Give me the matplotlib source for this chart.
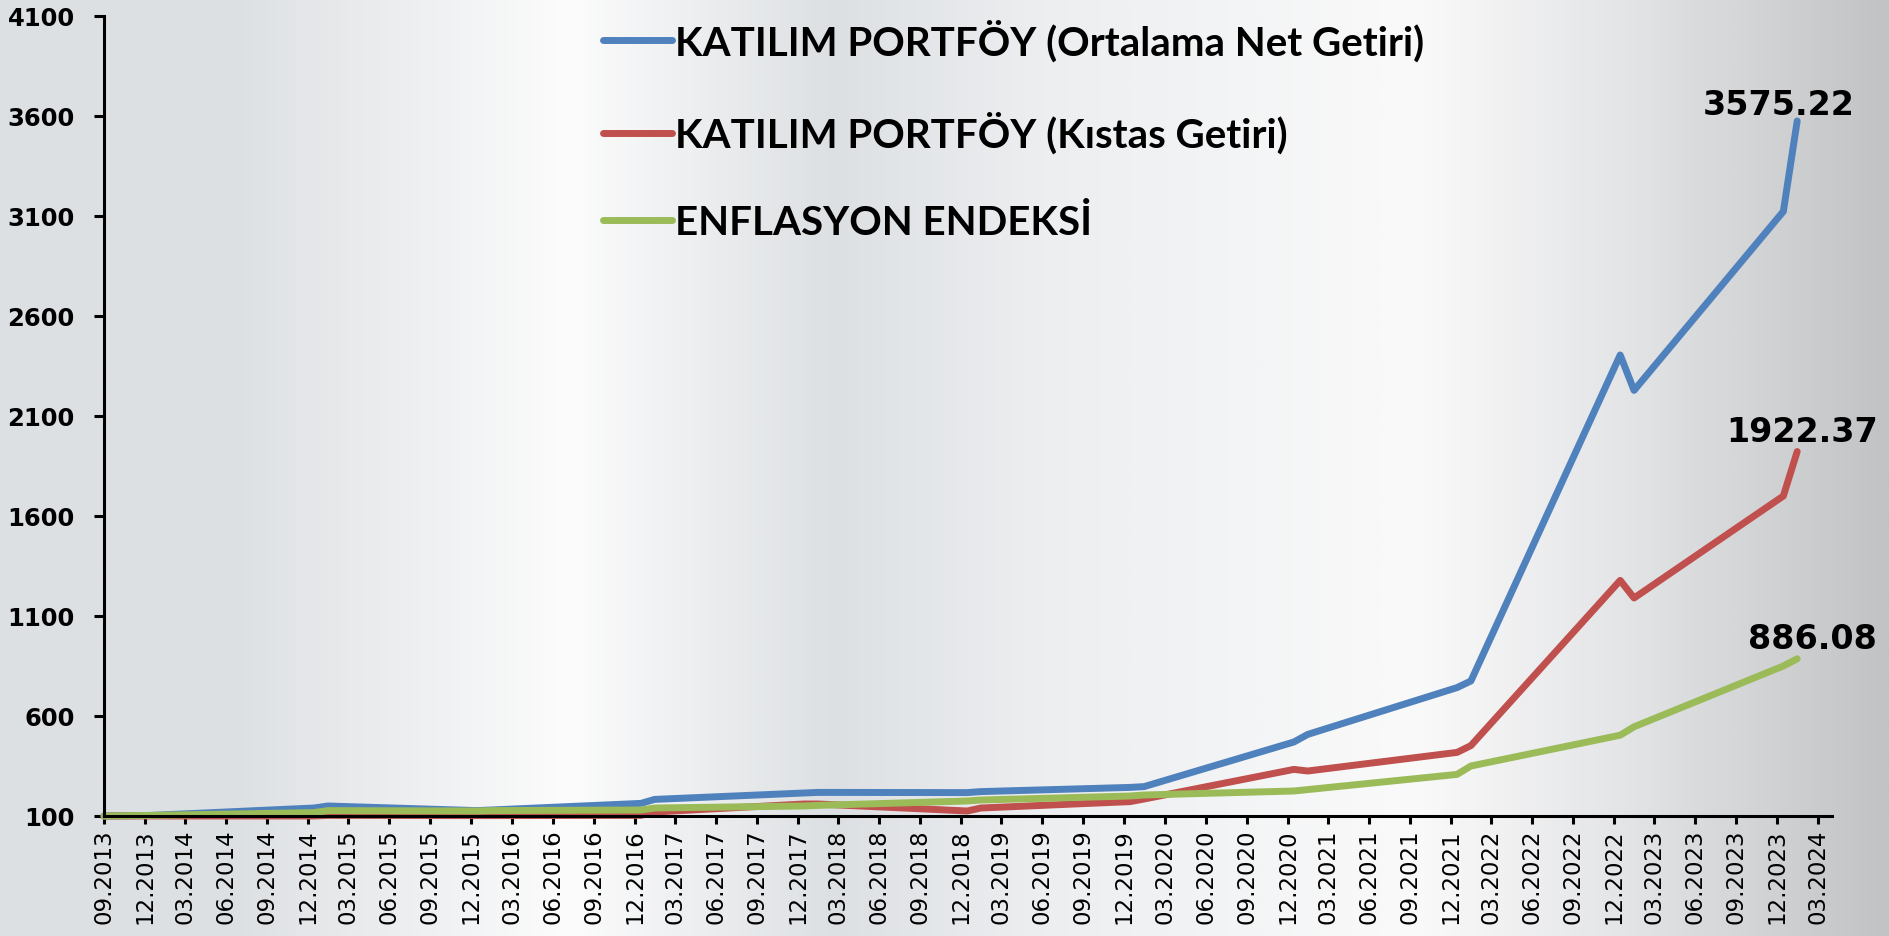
import numpy as np
import pandas as pd
import matplotlib
matplotlib.use("Agg")
import matplotlib.pyplot as plt
import matplotlib.dates as mdates
from matplotlib.colors import LinearSegmentedColormap

# data (index, 09.2013 = 100)
dates = ["2013-09-01", "2013-12-15", "2014-12-15", "2015-01-15", "2015-12-15", "2016-01-15",
         "2016-12-15", "2017-01-15", "2017-12-15", "2018-01-15", "2018-12-15", "2019-01-15",
         "2019-12-15", "2020-01-15", "2020-12-15", "2021-01-15", "2021-12-15", "2022-01-15",
         "2022-12-15", "2023-01-15", "2023-12-15", "2024-01-15"]
ortalama_net = [100, 103, 140, 150, 127, 130, 163, 183, 215, 218, 217, 222,
                243, 247, 470, 508, 742, 775, 2405, 2228, 3123, 3575.22]
kistas = [100, 100, 100, 103, 102, 102, 103, 120, 160, 160, 125, 140,
          172, 185, 333, 325, 418, 452, 1278, 1190, 1700, 1922.37]
enflasyon = [100, 103, 117, 127, 125, 127, 130, 140, 150, 153, 175, 180,
             200, 205, 225, 232, 308, 350, 504, 546, 850, 886.08]

series_names = ["KATILIM PORTFÖY (Ortalama Net Getiri)", "KATILIM PORTFÖY (Kıstas Getiri)",
                "ENFLASYON ENDEKSİ"]
series_colors = ["#4f81bd", "#c0504d", "#9bbb59"]
label_offsets = [(-19, 16), (5, 20), (15, 20)]

y_ticks = [100, 600, 1100, 1600, 2100, 2600, 3100, 3600, 4100]
x_ticks = pd.date_range("2013-09-01", "2024-03-01", freq="3MS")

x = pd.to_datetime(dates)
all_series = [ortalama_net, kistas, enflasyon]

W, H = 1890, 937
fig = plt.figure(figsize=(W / 100, H / 100), dpi=100)

# background: horizontal grey/white gradient
bg = fig.add_axes([0, 0, 1, 1], zorder=0)
stops = [(0.0, "#dde0e3"), (0.12, "#dde0e3"), (0.30, "#fcfcfc"), (0.44, "#dde0e3"),
         (0.55, "#eceef0"), (0.75, "#fafafa"), (0.86, "#e4e5e7"), (1.0, "#c2c3c5")]
cmap = LinearSegmentedColormap.from_list("bg", stops)
bg.imshow(np.linspace(0, 1, 800).reshape(1, -1), cmap=cmap, aspect="auto", extent=[0, 1, 0, 1])
bg.axis("off")

ax = fig.add_axes([104 / W, 1 - 817 / H, (1832 - 104) / W, 800 / H], zorder=1)
ax.patch.set_alpha(0)

for vals, name, col, off in zip(all_series, series_names, series_colors, label_offsets):
    ax.plot(x, vals, color=col, lw=5.0, label=name, solid_joinstyle="round",
            solid_capstyle="round", clip_on=False)
    ax.annotate(f"{vals[-1]:.2f}", xy=(x[-1], vals[-1]), xytext=off, textcoords="offset pixels",
                ha="center", va="center", fontsize=24, fontweight="bold", family="DejaVu Sans")

ax.set_ylim(100, 4100)
ax.set_yticks(y_ticks)
ax.set_yticklabels([str(v) for v in y_ticks], fontsize=17.5, fontweight="bold")
left = mdates.date2num(pd.Timestamp("2013-09-01"))
right = mdates.date2num(pd.Timestamp("2024-03-01")) + 0.35 * 91
ax.set_xlim(left, right)
ax.set_xticks(x_ticks)
ax.set_xticklabels([d.strftime("%m.%Y") for d in x_ticks], rotation=90, fontsize=16.5)

for s in ["top", "right"]:
    ax.spines[s].set_visible(False)
for s in ["left", "bottom"]:
    ax.spines[s].set_linewidth(2.2)
ax.tick_params(axis="y", direction="out", length=7, width=2.2, pad=14)
ax.tick_params(axis="x", direction="out", length=6, width=2.2, pad=3)

leg = ax.legend(loc="upper left", bbox_to_anchor=(603 / W, 1 - 20 / H), bbox_transform=fig.transFigure,
                frameon=False, borderpad=0, borderaxespad=0, handlelength=1.71, handletextpad=0.08,
                labelspacing=1.25, prop={"family": "Lato", "weight": "bold", "size": 29})
for h in leg.get_lines():
    h.set_linewidth(5.0)
    h.set_solid_capstyle("round")

fig.savefig("out.png", dpi=100)
